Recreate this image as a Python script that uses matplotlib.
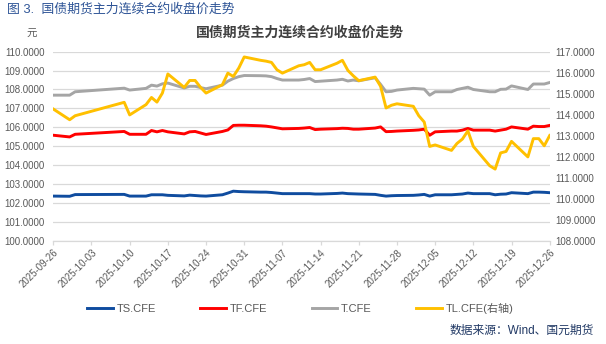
import matplotlib
matplotlib.use("Agg")
import matplotlib.pyplot as plt
import matplotlib.dates as mdates
import pandas as pd
from matplotlib.ticker import MultipleLocator, FormatStrFormatter

plt.rcParams['font.family'] = ['Liberation Sans', 'Noto Sans CJK SC', 'DejaVu Sans']

# Trading days (National Day holiday Oct 1-8 has no data)
dates = [
    "2025-09-26", "2025-09-29", "2025-09-30", "2025-10-09", "2025-10-10",
    "2025-10-13", "2025-10-14", "2025-10-15", "2025-10-16", "2025-10-17",
    "2025-10-20", "2025-10-21", "2025-10-22", "2025-10-23", "2025-10-24",
    "2025-10-27", "2025-10-28", "2025-10-29", "2025-10-30", "2025-10-31",
    "2025-11-03", "2025-11-04", "2025-11-05", "2025-11-06", "2025-11-07",
    "2025-11-10", "2025-11-11", "2025-11-12", "2025-11-13", "2025-11-14",
    "2025-11-17", "2025-11-18", "2025-11-19", "2025-11-20", "2025-11-21",
    "2025-11-24", "2025-11-25", "2025-11-26", "2025-11-27", "2025-11-28",
    "2025-12-01", "2025-12-02", "2025-12-03", "2025-12-04", "2025-12-05",
    "2025-12-08", "2025-12-09", "2025-12-10", "2025-12-11", "2025-12-12",
    "2025-12-15", "2025-12-16", "2025-12-17", "2025-12-18", "2025-12-19",
    "2025-12-22", "2025-12-23", "2025-12-24", "2025-12-25", "2025-12-26",
]

ts_cfe = [
    102.36, 102.35, 102.44, 102.45, 102.36,
    102.36, 102.43, 102.43, 102.43, 102.40,
    102.37, 102.41, 102.39, 102.37, 102.36,
    102.43, 102.52, 102.62, 102.60, 102.59,
    102.57, 102.57, 102.55, 102.52, 102.49,
    102.49, 102.49, 102.49, 102.47, 102.47,
    102.50, 102.52, 102.49, 102.48, 102.47,
    102.45, 102.40, 102.36, 102.38, 102.39,
    102.40, 102.42, 102.45, 102.36, 102.43,
    102.43, 102.45, 102.47, 102.52, 102.49,
    102.49, 102.43, 102.46, 102.47, 102.54,
    102.49, 102.57, 102.57, 102.56, 102.54,
]

tf_cfe = [
    105.58, 105.49, 105.63, 105.78, 105.63,
    105.63, 105.83, 105.76, 105.83, 105.76,
    105.65, 105.76, 105.78, 105.70, 105.62,
    105.78, 105.86, 106.10, 106.11, 106.11,
    106.08, 106.06, 106.02, 105.97, 105.92,
    105.94, 105.96, 105.99, 105.88, 105.90,
    105.93, 105.95, 105.94, 105.90, 105.90,
    105.96, 106.02, 105.77, 105.78, 105.80,
    105.84, 105.86, 105.90, 105.58, 105.76,
    105.80, 105.80, 105.85, 105.94, 105.85,
    105.85, 105.80, 105.85, 105.90, 106.02,
    105.90, 106.06, 106.04, 106.04, 106.10,
]

t_cfe = [
    107.70, 107.70, 107.88, 108.07, 107.97,
    108.06, 108.23, 108.18, 108.30, 108.34,
    108.08, 108.17, 108.17, 108.10, 108.04,
    108.23, 108.44, 108.58, 108.68, 108.74,
    108.73, 108.72, 108.68, 108.58, 108.50,
    108.50, 108.53, 108.58, 108.42, 108.44,
    108.50, 108.54, 108.45, 108.50, 108.46,
    108.62, 108.27, 107.88, 107.90, 107.97,
    108.06, 108.04, 108.02, 107.70, 107.88,
    107.88, 108.00, 108.06, 108.12, 108.00,
    107.88, 107.88, 108.01, 108.02, 108.19,
    108.00, 108.29, 108.29, 108.29, 108.37,
]

tl_cfe = [
    114.27, 113.76, 113.95, 114.59, 113.99,
    114.48, 114.82, 114.60, 115.03, 115.94,
    115.30, 115.63, 115.63, 115.30, 115.03,
    115.43, 115.98, 115.82, 116.22, 116.75,
    116.59, 116.55, 116.49, 116.14, 115.98,
    116.33, 116.38, 116.49, 116.14, 116.14,
    116.45, 116.59, 116.11, 115.85, 115.62,
    115.79, 115.35, 114.32, 114.45, 114.52,
    114.40, 113.95, 113.65, 112.49, 112.56,
    112.30, 112.63, 112.84, 113.23, 112.49,
    111.57, 111.41, 112.18, 112.25, 112.73,
    111.99, 112.86, 112.86, 112.52, 113.01,
]

series_names = ["TS.CFE", "TF.CFE", "T.CFE", "TL.CFE(右轴)"]
x = pd.to_datetime(dates)

W, H = 606, 344
fig = plt.figure(figsize=(W / 100, H / 100), dpi=100)
fig.patch.set_facecolor("white")

ax = fig.add_axes([53.3 / W, 1 - 240.7 / H, (549.7 - 53.3) / W, (240.7 - 51.7) / H])
ax2 = ax.twinx()

tick_color = "#595959"
grid_color = "#d9d9d9"

l1, = ax.plot(x, ts_cfe, color="#0f4c9f", lw=2.1, solid_joinstyle="round")
l2, = ax.plot(x, tf_cfe, color="#ff0000", lw=2.1, solid_joinstyle="round")
l3, = ax.plot(x, t_cfe, color="#a5a5a5", lw=2.1, solid_joinstyle="round")
l4, = ax2.plot(x, tl_cfe, color="#ffc000", lw=2.1, solid_joinstyle="round")

ax.set_ylim(100, 110)
ax2.set_ylim(108, 117)
ax.yaxis.set_major_locator(MultipleLocator(1))
ax2.yaxis.set_major_locator(MultipleLocator(1))
ax.yaxis.set_major_formatter(FormatStrFormatter("%.4f"))
ax2.yaxis.set_major_formatter(FormatStrFormatter("%.4f"))

ax.set_xlim(pd.Timestamp("2025-09-26"), pd.Timestamp("2025-12-26"))
ticks = pd.date_range("2025-09-26", "2025-12-26", freq="7D")
ax.set_xticks(ticks)
ax.xaxis.set_major_formatter(mdates.DateFormatter("%Y-%m-%d"))

ax.grid(axis="y", color=grid_color, lw=0.9)
ax.set_axisbelow(True)
for a in (ax, ax2):
    for s in ("top", "right", "left", "bottom"):
        a.spines[s].set_visible(False)
ax.spines["bottom"].set_visible(True)
ax.spines["bottom"].set_color(grid_color)
ax.spines["bottom"].set_linewidth(0.9)

ax.tick_params(axis="y", length=0, pad=6, labelsize=7, labelcolor=tick_color)
ax2.tick_params(axis="y", length=0, pad=4, labelsize=7, labelcolor=tick_color)
ax.tick_params(axis="x", length=3, width=0.9, color=grid_color, pad=2,
               labelsize=7, labelcolor=tick_color)
for lab in ax.get_xticklabels():
    lab.set_rotation(45)
    lab.set_ha("right")
    lab.set_va("top")
    lab.set_rotation_mode("anchor")

# Titles and annotations
fig.text(7 / W, 1 - 9 / H, "图 3.  国债期货主力连续合约收盘价走势", fontsize=9.3,
         color="#2f5597", ha="left", va="center")
fig.text(300 / W, 1 - 33 / H, "国债期货主力连续合约收盘价走势", fontsize=10,
         fontweight="bold", color="#404040", ha="center", va="center")
fig.text(32 / W, 1 - 34 / H, "元", fontsize=7.5, color=tick_color,
         ha="center", va="center")
fig.text(594 / W, 1 - 331 / H, "数据来源：Wind、国元期货", fontsize=8.5,
         color="#203864", ha="right", va="center")

fig.legend([l1, l2, l3, l4], series_names, loc="center left",
           bbox_to_anchor=(87 / W, 1 - 308 / H), ncol=4, frameon=False,
           fontsize=8, labelcolor=tick_color, handlelength=2.3,
           handletextpad=0.35, columnspacing=4.0, borderaxespad=0,
           borderpad=0)

fig.savefig("out.png", dpi=100)
